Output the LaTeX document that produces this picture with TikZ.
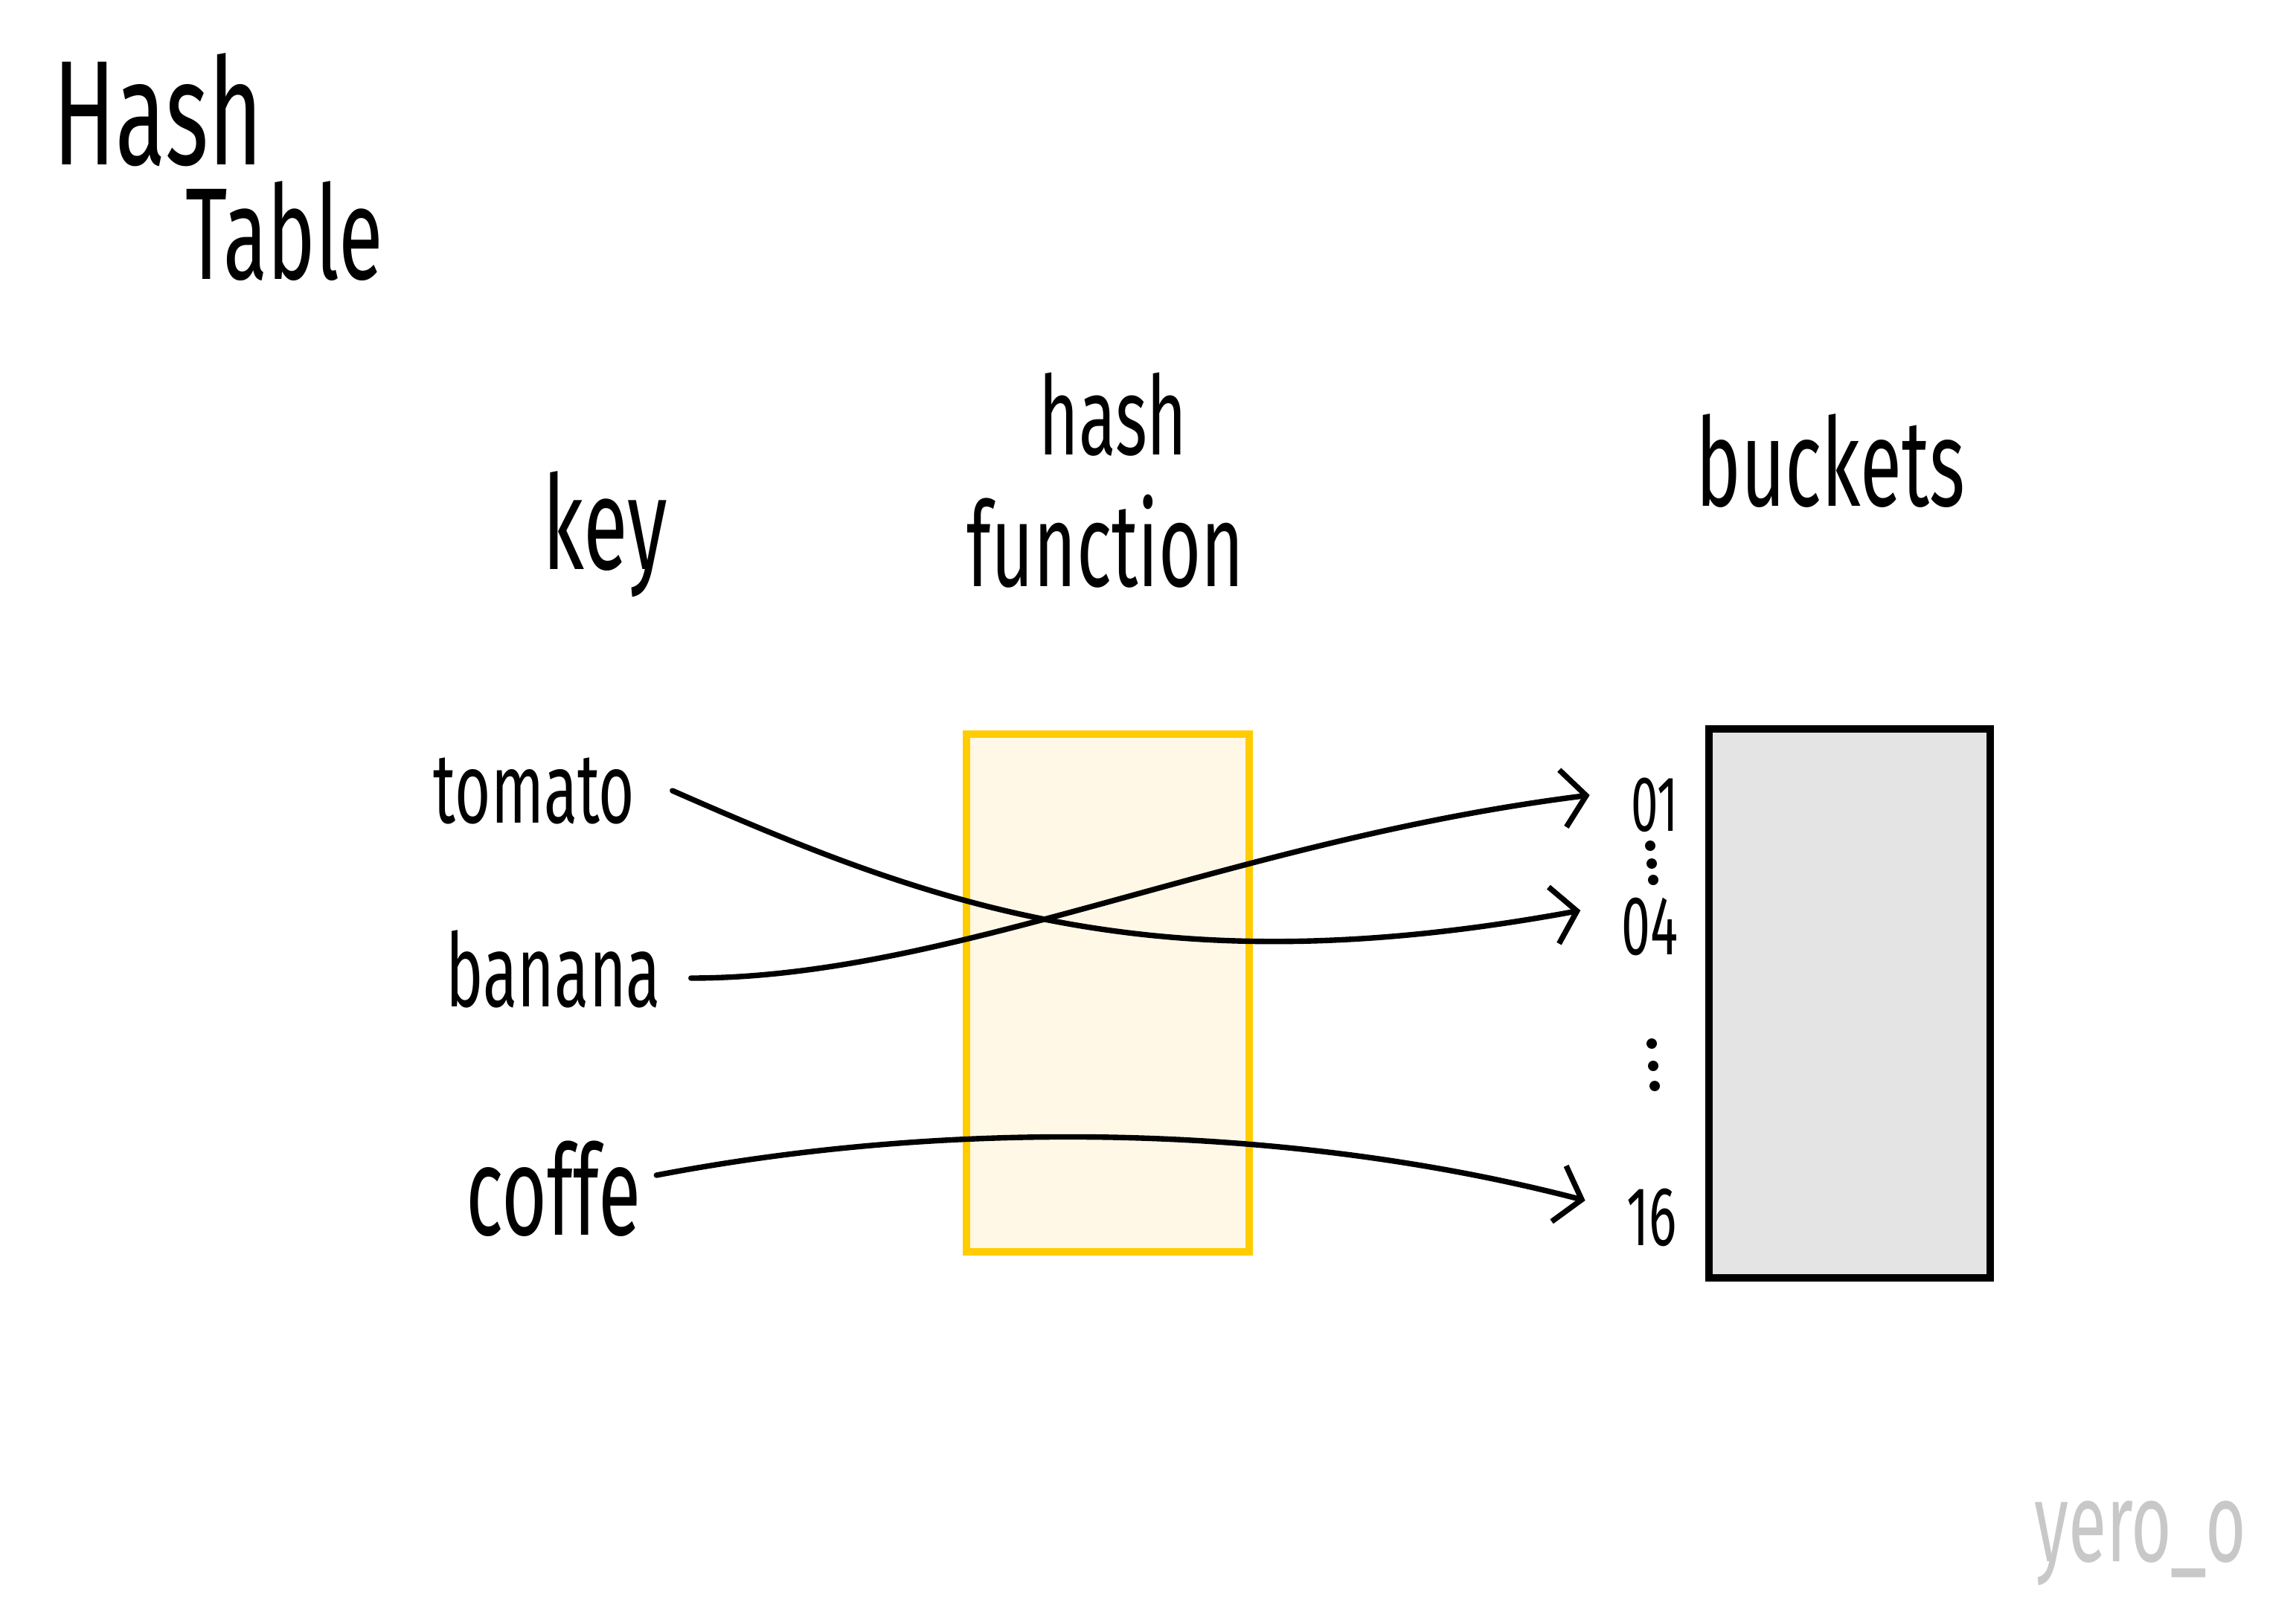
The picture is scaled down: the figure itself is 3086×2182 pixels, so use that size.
\documentclass[tikz,border=0pt]{standalone}
\usepackage{fontspec}
\newfontfamily\hand[FakeStretch=0.62]{Fira Sans}
\usetikzlibrary{arrows.meta,calc}
\definecolor{hfborder}{HTML}{FFCC00}
\definecolor{hffill}{HTML}{FFF8E6}
\definecolor{bkfill}{HTML}{E4E4E4}
\definecolor{wmark}{HTML}{C8C8C8}
\begin{document}
\begin{tikzpicture}[x=0.01cm,y=-0.01cm,
  lbl/.style={inner sep=0pt, anchor=center},
  conn/.style={line width=2.1pt, line cap=round,
    -{Straight Barb[length=9pt,width=22pt,line width=2.1pt]}},
  dot/.style={fill=black, draw=none}
]
\useasboundingbox (0,0) rectangle (3086,2182);

% titles
\node[lbl, font=\hand\fontsize{57}{60}\selectfont] (title1) at (212,148) {Hash};
\node[lbl, font=\hand\fontsize{50}{54}\selectfont] (title2) at (382,311) {Table};

% column headers
\node[lbl, font=\hand\fontsize{50}{54}\selectfont] (keyh) at (813,718) {key};
\node[lbl, font=\hand\fontsize{42}{46}\selectfont] (hashh) at (1496,557) {hash};
\node[lbl, font=\hand\fontsize{45}{48}\selectfont] (funch) at (1486,728) {function};
\node[lbl, font=\hand\fontsize{47}{50}\selectfont] (bucketh) at (2460,620) {buckets};

% boxes
\node[draw=hfborder, fill=hffill, line width=2.8pt, minimum width=3.8cm, minimum height=6.95cm, inner sep=0pt] (hf) at (1489,1335) {};
\node[draw=black, fill=bkfill, line width=2.8pt, minimum width=3.78cm, minimum height=7.38cm, inner sep=0pt] (bk) at (2486,1349) {};

% keys
\node[lbl, font=\hand\fontsize{38}{40}\selectfont] (tomato) at (718,1063) {tomato};
\node[lbl, font=\hand\fontsize{39}{42}\selectfont] (banana) at (744,1303) {banana};
\node[lbl, font=\hand\fontsize{48}{50}\selectfont] (coffe) at (744,1598) {coffe};

% bucket indices
\node[lbl, font=\hand\fontsize{30}{32}\selectfont] (b01) at (2224,1082) {01};
\node[lbl, font=\hand\fontsize{32}{34}\selectfont] (b04) at (2218,1246) {04};
\node[lbl, font=\hand\fontsize{32}{34}\selectfont] (b16) at (2220,1637) {16};

\fill[dot] (2218,1137) circle (7) (2220,1161) circle (7) (2222,1183) circle (7);
\fill[dot] (2220,1403) circle (7) (2222,1433) circle (7) (2224,1460) circle (7);

% connectors
\draw[conn] ($(tomato.east)+(50,0)$) .. controls (1250,1215) and (1550,1330) .. ($(b04.west)+(-55,-22)$);
\draw[conn] ($(banana.east)+(40,12)$) .. controls (1280,1315) and (1650,1130) .. ($(b01.west)+(-55,-13)$);
\draw[conn] ($(coffe.east)+(20,-18)$) .. controls (1300,1500) and (1750,1515) .. ($(b16.west)+(-55,-23)$);

% watermark
\node[lbl, text=wmark, font=\hand\fontsize{43}{46}\selectfont] (wm) at (2877,2075) {yero\_o};
\end{tikzpicture}
\end{document}
